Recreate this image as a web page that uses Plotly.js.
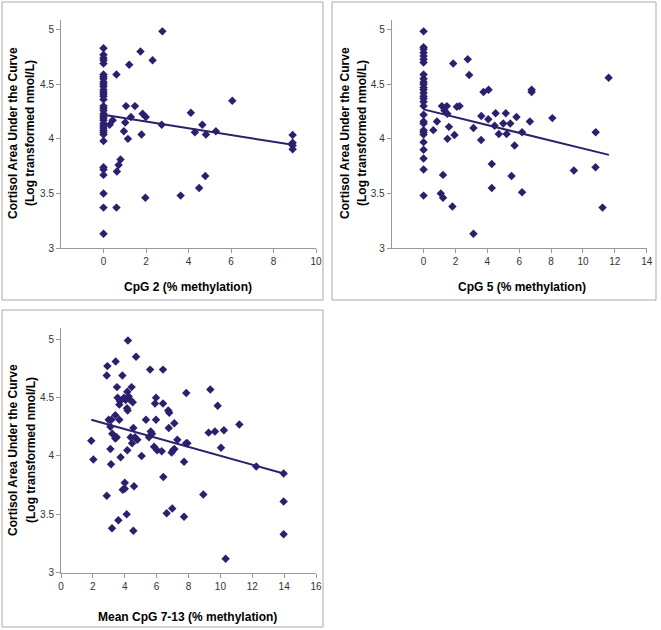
<!DOCTYPE html>
<html><head><meta charset="utf-8">
<script src="https://cdn.plot.ly/plotly-3.0.1.min.js"></script>
<style>html,body{margin:0;padding:0;background:#fff}#chart{width:661px;height:630px}</style>
</head><body><div id="chart"></div><script>
// ---- Data: CpG 2 ----
var cpg2_x = [0,0,0,0,0,0,0,0,0,0,0,0,0,0,0,0,0,0,0,0,0,0,0,0,0,0,0,0,0,0,0,0,0,0,0,0,
  2.77,1.74,2.31,1.21,0.61,6.06,1.06,1.48,1.84,1.99,1.29,0.43,0.29,1.02,2.74,4.11,4.65,4.30,4.82,5.29,0.96,1.15,1.79,8.90,8.90,8.90,8.90,0.80,0.71,0.63,4.79,4.50,3.63,1.97,0.61];
var cpg2_y = [4.83,4.77,4.74,4.72,4.69,4.59,4.57,4.55,4.52,4.50,4.48,4.45,4.43,4.41,4.39,4.36,4.30,4.28,4.26,4.23,4.21,4.19,4.17,4.14,4.12,4.10,4.08,4.06,4.04,3.98,3.74,3.72,3.67,3.50,3.37,3.13,
  4.985,4.80,4.72,4.68,4.59,4.35,4.30,4.30,4.23,4.20,4.20,4.17,4.13,4.15,4.13,4.24,4.13,4.06,4.04,4.07,4.07,4.00,4.04,4.035,3.965,3.94,3.905,3.81,3.76,3.70,3.66,3.55,3.48,3.46,3.37];
var trend2_x = [0, 8.9];
var trend2_y = [4.22, 3.945];

// ---- Data: CpG 5 ----
var cpg5_x = [0,0,0,0,0,0,0,0,0,0,0,0,0,0,0,0,0,0,0,0,0,0,0,0,0,0,0,0,0,
  1.86,2.77,2.86,3.76,4.08,6.78,6.78,11.61,1.15,1.46,1.31,1.49,2.09,2.26,0.84,0.61,1.59,1.50,1.94,3.13,3.62,4.06,4.52,5.16,5.83,5.00,4.46,5.44,4.72,5.21,6.18,6.67,8.08,10.80,3.61,5.71,4.28,5.52,9.43,10.79,1.22,1.08,1.22,4.28,6.18,1.81,11.23,3.13];
var cpg5_y = [4.985,4.84,4.82,4.79,4.76,4.73,4.70,4.59,4.55,4.52,4.50,4.47,4.45,4.42,4.39,4.37,4.34,4.30,4.22,4.16,4.14,4.08,4.06,4.04,3.97,3.90,3.82,3.72,3.48,
  4.69,4.73,4.585,4.43,4.45,4.45,4.43,4.56,4.30,4.30,4.26,4.23,4.295,4.30,4.16,4.08,4.11,4.00,4.035,4.10,4.21,4.18,4.235,4.235,4.20,4.14,4.12,4.14,4.045,4.045,4.06,4.16,4.19,4.06,3.99,3.94,3.77,3.66,3.71,3.74,3.67,3.50,3.46,3.55,3.51,3.38,3.37,3.13];
var trend5_x = [0, 11.63];
var trend5_y = [4.27, 3.853];

// ---- Data: Mean CpG 7-13 ----
var mean_x = [1.90,2.03,2.87,2.91,2.87,3.43,4.20,4.71,3.85,3.51,4.43,4.16,3.55,3.70,3.66,3.95,4.05,4.25,4.35,4.50,4.14,4.18,3.41,2.99,3.16,3.66,3.10,3.22,3.41,3.49,
  4.54,4.37,4.64,4.79,4.46,4.16,3.10,3.74,3.14,5.06,5.33,5.52,5.63,5.71,5.84,6.03,6.32,5.90,5.96,5.96,6.40,6.73,6.79,5.59,6.40,6.76,7.11,7.30,6.94,7.03,
  7.11,7.86,7.85,7.93,7.72,6.42,4.58,4.00,4.00,3.87,8.93,9.26,9.66,10.22,11.19,9.37,9.83,10.04,12.25,13.97,13.97,13.97,10.33,6.98,6.63,7.72,4.12,3.60,3.20,4.54];
var mean_y = [4.13,3.97,3.66,4.77,4.69,4.81,4.99,4.85,4.69,4.59,4.59,4.55,4.50,4.47,4.44,4.50,4.48,4.51,4.48,4.46,4.41,4.39,4.35,4.31,4.31,4.31,4.25,4.19,4.15,4.16,
  4.24,4.16,4.16,4.14,4.11,4.05,4.06,3.99,3.93,4.00,4.31,4.16,4.21,4.19,4.08,4.05,4.04,4.45,4.50,4.31,4.45,4.39,4.37,4.74,4.74,4.24,4.28,4.14,4.03,4.05,
  4.06,4.54,4.11,4.11,3.95,3.82,3.74,3.77,3.72,3.71,3.67,4.20,4.21,4.22,4.27,4.57,4.43,4.07,3.91,3.85,3.61,3.33,3.12,3.55,3.51,3.48,3.50,3.45,3.38,3.36];
var trend713_x = [1.9, 13.97];
var trend713_y = [4.31, 3.85];

var yTicks = [3, 3.5, 4, 4.5, 5];
var xTicks2 = [0, 2, 4, 6, 8, 10];
var xTicks5 = [0, 2, 4, 6, 8, 10, 12, 14];
var xTicks713 = [0, 2, 4, 6, 8, 10, 12, 14, 16];

var W = 661, H = 630;
var COL = '#2e1f6e';
function px(x){return x/W;}
function py(y){return 1 - y/H;}

function pts(x, y, n){return {x:x, y:y, type:'scatter', mode:'markers', xaxis:'x'+n, yaxis:'y'+n,
  marker:{symbol:'diamond', size:6.5, color:COL}, hoverinfo:'skip'};}
function ln(x, y, n){return {x:x, y:y, type:'scatter', mode:'lines', xaxis:'x'+n, yaxis:'y'+n,
  line:{color:COL, width:2}, hoverinfo:'skip'};}

var data = [pts(cpg2_x,cpg2_y,''), ln(trend2_x,trend2_y,''),
            pts(cpg5_x,cpg5_y,'2'), ln(trend5_x,trend5_y,'2'),
            pts(mean_x,mean_y,'3'), ln(trend713_x,trend713_y,'3')];

var tickfont = {family:'Liberation Sans, Arial, sans-serif', size:10, color:'#333'};
function xax(dom, range, tv, anchor){return {domain:dom, range:range, tickvals:tv, anchor:anchor,
  showline:true, linecolor:'#999', linewidth:1, ticks:'outside', ticklen:4, tickcolor:'#999',
  showgrid:false, zeroline:false, tickfont:tickfont, fixedrange:true};}
function yax(dom, range, anchor){return {domain:dom, range:range, tickvals:yTicks, anchor:anchor,
  showline:true, linecolor:'#999', linewidth:1, ticks:'outside', ticklen:4, tickcolor:'#999',
  showgrid:false, zeroline:false, tickfont:tickfont, fixedrange:true};}

var titleFont = {family:'Liberation Sans, Arial, sans-serif', size:12, color:'#000', weight:'bold'};
function ann(text, x, y, angle){return {text:'<b>'+text+'</b>', x:px(x), y:py(y), xref:'paper', yref:'paper',
  showarrow:false, xanchor:'center', yanchor:'middle', textangle:angle||0, font:titleFont};}
function frame(x0,y0,x1,y1){return {type:'rect', xref:'paper', yref:'paper', x0:px(x0), x1:px(x1), y0:py(y1), y1:py(y0),
  line:{color:'#aaa', width:1}, fillcolor:'rgba(0,0,0,0)'};}

var layout = {
  width:W, height:H, margin:{l:0,r:0,t:0,b:0}, showlegend:false,
  paper_bgcolor:'#fff', plot_bgcolor:'#fff',
  xaxis: xax([px(61), px(316)], [-2,10], xTicks2, 'y'),
  yaxis: yax([py(248), py(19.9)], [3,5.09], 'x'),
  xaxis2: xax([px(391.7), px(646.7)], [-2,14], xTicks5, 'y2'),
  yaxis2: yax([py(248), py(19.9)], [3,5.09], 'x2'),
  xaxis3: xax([px(61), px(316)], [0,16], xTicks713, 'y3'),
  yaxis3: yax([py(572.7), py(327.6)], [3,5.1], 'x3'),
  shapes:[frame(2,2,323,300), frame(332,2,656,300), frame(2,310,323,627)],
  annotations:[
    ann('Cortisol Area Under the Curve', 13, 133, -90),
    ann('(Log transformed nmol/L)', 30, 133, -90),
    ann('CpG 2 (% methylation)', 188, 287),
    ann('Cortisol Area Under the Curve', 345, 133, -90),
    ann('(Log transformed nmol/L)', 362, 133, -90),
    ann('CpG 5 (% methylation)', 522, 287),
    ann('Cortisol Area Under the Curve', 13, 450, -90),
    ann('(Log transformed nmol/L)', 31, 450, -90),
    ann('Mean CpG 7-13 (% methylation)', 187, 617)
  ]
};
Plotly.newPlot('chart', data, layout, {staticPlot:true, displayModeBar:false});
</script></body></html>
